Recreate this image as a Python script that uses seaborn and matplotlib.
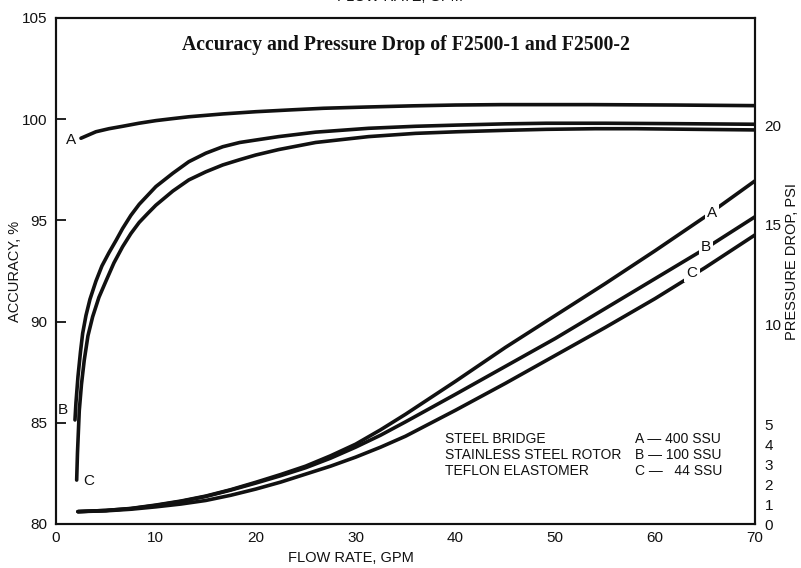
import matplotlib
matplotlib.use("Agg")
import matplotlib.pyplot as plt
import seaborn as sns
import pandas as pd

# ---- data ----
acc_a_flow = [2.5, 4, 5.3, 6.67, 8.3, 10, 11.7, 13.3, 16.7, 20, 23.5, 26.8, 31, 35.7, 40, 44.6, 53.6, 62, 70]
acc_a_val = [99.06, 99.38, 99.53, 99.65, 99.8, 99.93, 100.03, 100.12, 100.26, 100.37, 100.46, 100.54,
             100.6, 100.66, 100.7, 100.72, 100.72, 100.7, 100.67]

acc_b_flow = [1.9, 2.0, 2.2, 2.45, 2.67, 3.0, 3.4, 4.0, 4.6, 5.3, 6.0, 6.67, 7.5, 8.34, 9.2, 10, 11.7,
              13.3, 15, 16.7, 18.4, 20, 22.3, 26, 31.3, 36, 40.2, 45, 49.1, 55, 62, 70]
acc_b_val = [85.14, 86.0, 87.28, 88.5, 89.42, 90.3, 91.1, 92.0, 92.75, 93.4, 94.0, 94.6, 95.25, 95.8,
             96.25, 96.67, 97.33, 97.9, 98.32, 98.64, 98.85, 98.97, 99.14, 99.36, 99.55, 99.65, 99.71,
             99.77, 99.8, 99.8, 99.78, 99.75]

acc_c_flow = [2.07, 2.15, 2.33, 2.55, 2.83, 3.2, 3.67, 4.3, 5.0, 5.8, 6.67, 7.5, 8.33, 9.2, 10, 11.7,
              13.3, 15, 16.7, 18.4, 20, 22.3, 26, 31.3, 36, 40.2, 45, 49.1, 54, 58.1, 64, 70]
acc_c_val = [82.17, 83.5, 85.6, 86.9, 88.1, 89.3, 90.24, 91.2, 92.0, 92.9, 93.7, 94.35, 94.9, 95.35,
             95.75, 96.45, 97.0, 97.4, 97.74, 98.0, 98.23, 98.5, 98.85, 99.14, 99.3, 99.38, 99.45,
             99.5, 99.53, 99.53, 99.5, 99.47]

pd_a_flow = [2.2, 5, 7.5, 10, 12.5, 15, 17.5, 20, 22.5, 25, 27.5, 30, 32.5, 35, 40, 45, 50, 55, 60, 65, 70]
pd_a_val = [0.62, 0.68, 0.78, 0.95, 1.15, 1.4, 1.72, 2.09, 2.48, 2.9, 3.42, 4.0, 4.72, 5.5, 7.15, 8.85,
            10.45, 12.05, 13.7, 15.4, 17.2]

pd_b_flow = [2.2, 5, 7.5, 10, 12.5, 15, 17.5, 20, 22.5, 25, 27.5, 30, 32.5, 35, 40, 45, 50, 55, 60, 65, 70]
pd_b_val = [0.62, 0.68, 0.77, 0.93, 1.13, 1.38, 1.7, 2.05, 2.42, 2.82, 3.3, 3.85, 4.45, 5.12, 6.5, 7.9,
            9.3, 10.8, 12.3, 13.8, 15.4]

pd_c_flow = [2.2, 5, 7.5, 10, 12.5, 15, 17.5, 20, 22.5, 25, 27.5, 30, 32.5, 35, 40, 45, 50, 55, 60, 65, 70]
pd_c_val = [0.62, 0.66, 0.74, 0.86, 1.0, 1.18, 1.44, 1.75, 2.1, 2.5, 2.9, 3.35, 3.85, 4.4, 5.7, 7.05,
            8.45, 9.85, 11.3, 12.85, 14.49]

x_ticks = [0, 10, 20, 30, 40, 50, 60, 70]
acc_ticks = [80, 85, 90, 95, 100, 105]
psi_ticks = [0, 1, 2, 3, 4, 5, 10, 15, 20]

title = "Accuracy and Pressure Drop of F2500-1 and F2500-2"
legend_left = ["STEEL BRIDGE", "STAINLESS STEEL ROTOR", "TEFLON ELASTOMER"]
legend_right = ["A \u2014 400 SSU", "B \u2014 100 SSU", "C \u2014   44 SSU"]

# ---- figure ----
sns.set_style("white")
plt.rcParams['font.family'] = ['Liberation Sans', 'DejaVu Sans']
ink = "#111111"

fig = plt.figure(figsize=(8.01, 5.68), dpi=100)
ax = fig.add_axes([56/801, 44/568, 699/801, 506/568])
ax2 = ax.twinx()

lw = 2.6
for fl, v in [(acc_a_flow, acc_a_val), (acc_b_flow, acc_b_val), (acc_c_flow, acc_c_val)]:
    df = pd.DataFrame({"flow": fl, "acc": v})
    sns.lineplot(data=df, x="flow", y="acc", ax=ax, color=ink, lw=lw,
                 estimator=None, sort=False, solid_capstyle="round", solid_joinstyle="round")

for fl, v in [(pd_a_flow, pd_a_val), (pd_b_flow, pd_b_val), (pd_c_flow, pd_c_val)]:
    df = pd.DataFrame({"flow": fl, "psi": v})
    sns.lineplot(data=df, x="flow", y="psi", ax=ax2, color=ink, lw=lw,
                 estimator=None, sort=False, solid_capstyle="round", solid_joinstyle="round")

ax.set_xlim(0, 70)
ax.set_ylim(80, 105)
ax2.set_ylim(0, 506/19.95)

ax.set_xticks(x_ticks)
ax.set_yticks(acc_ticks)
ax2.set_yticks(psi_ticks)
ax.tick_params(axis="both", direction="in", length=7, width=1.3, colors=ink,
               labelsize=11, pad=5)
ax.tick_params(axis="y", pad=6)
ax2.tick_params(axis="y", length=0, labelsize=11, colors=ink, pad=7)

ax.set_xlabel("")
ax.set_ylabel("")
ax2.set_ylabel("")
for a in (ax, ax2):
    for s in a.spines.values():
        s.set_color(ink)
        s.set_linewidth(1.5)

# axis labels
fig.text(15/801, 1 - 271/568, "ACCURACY, %", rotation=90, ha="center", va="center",
         fontsize=10.5, color=ink)
fig.text(792/801, 1 - 262/568, "PRESSURE DROP, PSI", rotation=90, ha="center", va="center",
         fontsize=10.5, color=ink)
fig.text(351/801, 1 - 558/568, "FLOW RATE, GPM", ha="center", va="center",
         fontsize=10.5, color=ink)
fig.text(400/801, 1 + 3/568, "FLOW RATE, GPM", ha="center", va="center",
         fontsize=10.5, color=ink)

# title
ax.text(0.5, 1 - (45 - 18)/506, title, transform=ax.transAxes, ha="center", va="center",
        fontsize=14.2, fontweight="bold", family=["Liberation Serif", "DejaVu Serif"], color=ink)

# curve labels
ax.text(1.5, 98.97, "A", ha="center", va="center", fontsize=11, color=ink)
ax.text(0.7, 85.63, "B", ha="center", va="center", fontsize=11, color=ink)
ax.text(3.3, 82.12, "C", ha="center", va="center", fontsize=11, color=ink)
bb = dict(boxstyle="square,pad=0.15", fc="white", ec="none")
ax2.text(65.7, 15.59, "A", ha="center", va="center", fontsize=11, color=ink, bbox=bb, zorder=5)
ax2.text(65.1, 13.88, "B", ha="center", va="center", fontsize=11, color=ink, bbox=bb, zorder=5)
ax2.text(63.7, 12.58, "C", ha="center", va="center", fontsize=11, color=ink, bbox=bb, zorder=5)

# legend block
rows_y = [439, 455, 471]
for t, r, yy in zip(legend_left, legend_right, rows_y):
    yf = 1 - yy/568
    fig.text(445/801, yf, t, ha="left", va="center", fontsize=10, color=ink)
    fig.text(635/801, yf, r, ha="left", va="center", fontsize=10, color=ink)

fig.savefig("out.png", dpi=100)
